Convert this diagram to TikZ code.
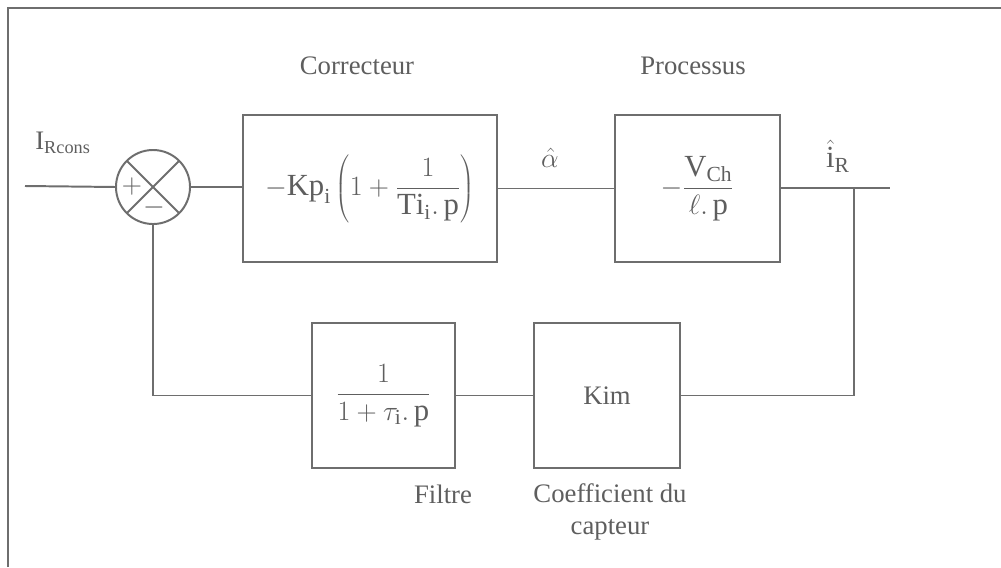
\documentclass[tikz,border=0pt]{standalone}
\usepackage{graphicx}
\usepackage{fontspec}
\setmainfont{Liberation Serif}
\usepackage{xcolor}
\definecolor{lineGray}{HTML}{6E6E6E}
\definecolor{textGray}{HTML}{5E5E5E}
\usepackage{tikz}
\usetikzlibrary{
    shapes.geometric,
    calc
}
\newcommand{\formule}[1]{\scalebox{1.15}{#1}}
\tikzset{
    % Base style for all nodes
    base/.style={
        font=\fontsize{19}{23}\selectfont,
        align=center,
        text=textGray,
        inner sep=0pt,
        outer sep=0pt,
    },
    % Transfer blocks - plain rectangles
    bloc/.style={
        base,
        rectangle,
        draw=lineGray,
        line width=1.4pt,
    },
    % Summing junction - circle with a cross
    sommateur/.style={
        base,
        circle,
        draw=lineGray,
        line width=1.4pt,
        minimum size=1.85cm,
    },
    % Free text labels
    etiquette/.style={
        base,
    },
    % Signal lines, no arrow tips
    liaison/.style={
        draw=lineGray,
        line width=1.4pt,
    },
}

\begin{document}
\begin{tikzpicture}[x=0.025cm, y=-0.025cm]
    \useasboundingbox (0,0) rectangle (1001,567);
    % cropped frame
    \draw [lineGray, line width=1.2pt] (8,567) -- (8,8) -- (1001,8);

    % forward path
    \coordinate (entree) at (25,186);
    \node (somme) [sommateur] at (153,187) {};
    \node (correcteur) [bloc, minimum width=6.35cm, minimum height=3.675cm] at (370,188.5)
        {\formule{$-\mathrm{Kp}_{\mathrm{i}}\left(1+\displaystyle\frac{1}{\mathrm{Ti}_{\mathrm{i}}.\,\mathrm{p}}\right)$}};
    \node (processus) [bloc, minimum width=4.125cm, minimum height=3.675cm] at (697.5,188.5)
        {\formule{$-\displaystyle\frac{\mathrm{V}_{\mathrm{Ch}}}{\ell.\,\mathrm{p}}$}};
    \coordinate (sortie) at (890,188);
    \coordinate (branche) at (854,188);

    % feedback path
    \node (capteur) [bloc, minimum width=3.65cm, minimum height=3.625cm] at (607,395.5) {Kim};
    \node (filtre) [bloc, minimum width=3.575cm, minimum height=3.625cm] at (383.5,395.5)
        {\formule{$\displaystyle\frac{1}{1+\tau_{\mathrm{i}}.\,\mathrm{p}}$}};

    % cross and signs of the junction
    \draw [liaison] (somme.north west) -- (somme.south east);
    \draw [liaison] (somme.north east) -- (somme.south west);
    \node (plus) [etiquette] at (132,187) {\formule{$+$}};
    \node (moins) [etiquette] at (154,208) {\formule{$-$}};

    % labels
    \node (lblcons) [etiquette] at (63,143) {I\textsubscript{\fontsize{13}{15}\selectfont Rcons}};
    \node (lblalpha) [etiquette] at (550,158) {\formule{$\hat{\alpha}$}};
    \node (lblsortie) [etiquette] at (838,156) {\formule{$\hat{\mathrm{i}}_{\mathrm{R}}$}};
    \node (lblcorr) [etiquette] at (357,66) {Correcteur};
    \node (lblproc) [etiquette] at (693,66) {Processus};
    \node (lblfiltre) [etiquette] at (443,494) {Filtre};
    \node (lblcapt) [etiquette] at (610,512) {Coefficient du\\capteur};

    % connections
    \draw [liaison] (entree) -- (somme.west);
    \draw [liaison] (somme.east) -- (somme.east -| correcteur.west);
    \draw [liaison] (correcteur.east) -- (processus.west);
    \draw [liaison] (processus.east |- sortie) -- (sortie);
    \draw [liaison] (branche) |- (capteur.east);
    \draw [liaison] (capteur.west) -- (filtre.east);
    \draw [liaison] (filtre.west) -| (somme.south);
\end{tikzpicture}
\end{document}
